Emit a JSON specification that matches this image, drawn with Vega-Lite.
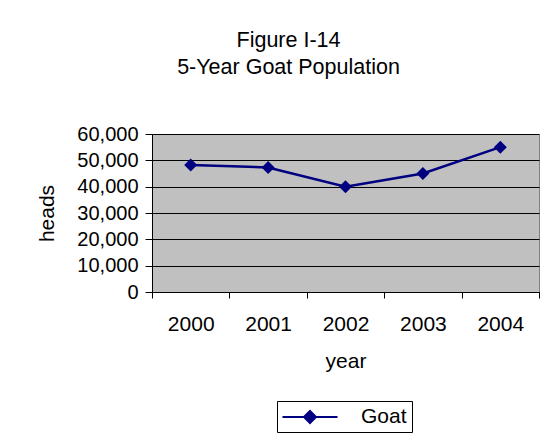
{
  "$schema": "https://vega.github.io/schema/vega-lite/v6.json",
  "width": 387,
  "height": 158,
  "autosize": {"type": "none"},
  "padding": {"left": 152, "top": 134, "right": 9, "bottom": 144},
  "background": "white",
  "title": {
    "text": ["Figure I-14", "5-Year Goat Population"],
    "anchor": "middle",
    "frame": "group",
    "dx": -57,
    "offset": 46,
    "fontSize": 21.5,
    "fontWeight": "normal",
    "font": "Liberation Sans",
    "color": "black",
    "lineHeight": 27
  },
  "data": {
    "values": [
      {"year": "2000", "heads": 48200, "series": "Goat"},
      {"year": "2001", "heads": 47300, "series": "Goat"},
      {"year": "2002", "heads": 40000, "series": "Goat"},
      {"year": "2003", "heads": 45000, "series": "Goat"},
      {"year": "2004", "heads": 55000, "series": "Goat"}
    ]
  },
  "encoding": {
    "x": {
      "field": "year",
      "type": "ordinal",
      "bandPosition": 0.5,
      "scale": {"type": "band", "paddingInner": 0, "paddingOuter": 0},
      "axis": {
        "title": "year",
        "labelAngle": 0,
        "labelFontSize": 21,
        "tickBand": "extent",
        "tickSize": 6,
        "labelPadding": 15,
        "titleX": 193.5,
        "titleY": 75,
        "titleBaseline": "alphabetic",
        "titleAlign": "center"
      }
    },
    "y": {
      "field": "heads",
      "type": "quantitative",
      "scale": {"domain": [0, 60000], "nice": false},
      "axis": {
        "title": "heads",
        "values": [0, 10000, 20000, 30000, 40000, 50000, 60000],
        "format": ",d",
        "grid": true,
        "tickSize": 7,
        "labelPadding": 7,
        "titleAngle": -90,
        "titleX": -105,
        "titleY": 79,
        "titleBaseline": "middle",
        "titleAlign": "center"
      }
    }
  },
  "layer": [
    {
      "mark": {"type": "line", "strokeWidth": 2.5},
      "encoding": {
        "color": {
          "field": "series",
          "type": "nominal",
          "title": null,
          "scale": {"range": ["#000080"]},
          "legend": {
            "orient": "none",
            "legendX": 125,
            "legendY": 267,
            "padding": 5,
            "strokeColor": "black",
            "symbolType": "M-2.75,0H2.75M-0.6,0L0,-0.6L0.6,0L0,0.6Z",
            "symbolSize": 400,
            "symbolStrokeWidth": 2,
            "symbolOffset": 17,
            "labelOffset": 40,
            "labelFontSize": 21,
            "labelFont": "Liberation Sans",
            "labelColor": "black",
            "encode": {
              "symbols": {
                "update": {
                  "fill": {"value": "#000080"},
                  "stroke": {"value": "#000080"},
                  "strokeWidth": {"value": 2},
                  "opacity": {"value": 1}
                }
              }
            }
          }
        }
      }
    },
    {
      "mark": {"type": "point", "shape": "diamond", "size": 169, "filled": true, "opacity": 1, "color": "#000080"}
    }
  ],
  "config": {
    "view": {"fill": "#C0C0C0", "stroke": "#808080", "strokeWidth": 1},
    "axis": {
      "domainColor": "black",
      "domainWidth": 1,
      "tickColor": "black",
      "tickWidth": 1,
      "gridColor": "black",
      "gridWidth": 1,
      "gridOpacity": 1,
      "labelFont": "Liberation Sans",
      "labelFontSize": 20,
      "labelColor": "black",
      "titleFont": "Liberation Sans",
      "titleFontSize": 21,
      "titleFontWeight": "normal",
      "titleColor": "black"
    }
  }
}
